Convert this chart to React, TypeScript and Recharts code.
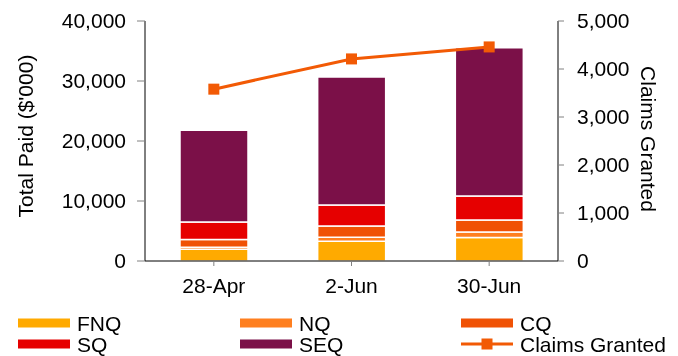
import { ComposedChart, Bar, Line, XAxis, YAxis } from 'recharts'

const dates = ['28-Apr', '2-Jun', '30-Jun']
const fnq = [1950, 3300, 3900]
const nq = [350, 650, 930]
const cq = [1300, 1900, 2000]
const sq = [2900, 3500, 4000]
const seq = [15300, 21300, 24700]
const claimsGranted = [3580, 4210, 4460]

const paidTicks = [0, 10000, 20000, 30000, 40000]
const claimTicks = [0, 1000, 2000, 3000, 4000, 5000]

const data = dates.map((name, i) => ({
  name,
  FNQ: fnq[i],
  NQ: nq[i],
  CQ: cq[i],
  SQ: sq[i],
  SEQ: seq[i],
  claims: claimsGranted[i],
}))

const font = '"Liberation Sans", Arial, sans-serif'
const fmt = (v: number) => v.toLocaleString('en-US')

const bars = [
  { key: 'FNQ', color: '#FFAA00' },
  { key: 'NQ', color: '#FF7F1F' },
  { key: 'CQ', color: '#F05205' },
  { key: 'SQ', color: '#E60000' },
  { key: 'SEQ', color: '#7B1048' },
]
const lineColor = '#F25A05'

const legendItems = [
  { label: 'FNQ', color: '#FFAA00', x: 18, y: 323 },
  { label: 'NQ', color: '#FF7F1F', x: 240, y: 323 },
  { label: 'CQ', color: '#F05205', x: 461, y: 323 },
  { label: 'SQ', color: '#E60000', x: 18, y: 344 },
  { label: 'SEQ', color: '#7B1048', x: 240, y: 344 },
]

const SquareDot = (props: any) => {
  const { cx, cy } = props
  if (cx == null || cy == null) return null
  return <rect x={cx - 5.5} y={cy - 5.5} width={11} height={11} fill={lineColor} />
}

export default function App() {
  return (
    <div style={{ position: 'fixed', left: 0, top: 0, width: 678, height: 356, fontFamily: font }}>
      <ComposedChart
        width={678}
        height={356}
        data={data}
        margin={{ top: 21, right: 0, left: 0, bottom: 55 }}
        barCategoryGap={0}
      >
        <XAxis
          dataKey="name"
          height={40}
          tick={{ fontSize: 21, fill: '#000', fontFamily: font }}
          tickSize={5}
          tickMargin={12}
          axisLine={{ stroke: '#000' }}
          tickLine={{ stroke: '#808080' }}
        />
        <YAxis
          yAxisId="left"
          width={145}
          domain={[0, 40000]}
          ticks={paidTicks}
          tickFormatter={fmt}
          tick={{ fontSize: 21, fill: '#000', fontFamily: font }}
          tickSize={8}
          tickMargin={11}
          axisLine={{ stroke: '#000' }}
          tickLine={{ stroke: '#808080' }}
          label={{
            value: "Total Paid ($'000)",
            angle: -90,
            position: 'center',
            dx: -47,
            dy: -5,
            style: { fontSize: 21, fill: '#000', fontFamily: font },
          }}
        />
        <YAxis
          yAxisId="right"
          orientation="right"
          width={120}
          domain={[0, 5000]}
          ticks={claimTicks}
          tickFormatter={fmt}
          tick={{ fontSize: 21, fill: '#000', fontFamily: font }}
          tickSize={6}
          tickMargin={13}
          axisLine={{ stroke: '#000' }}
          tickLine={{ stroke: '#808080' }}
          label={{
            value: 'Claims Granted',
            angle: 90,
            position: 'center',
            dx: 30,
            dy: -2,
            style: { fontSize: 21, fill: '#000', fontFamily: font },
          }}
        />
        {bars.map((b) => (
          <Bar
            key={b.key}
            yAxisId="left"
            dataKey={b.key}
            stackId="paid"
            fill={b.color}
            stroke="#fff"
            strokeWidth={1.5}
            barSize={68}
            isAnimationActive={false}
          />
        ))}
        <Line
          yAxisId="right"
          dataKey="claims"
          stroke={lineColor}
          strokeWidth={3}
          dot={<SquareDot />}
          activeDot={false}
          isAnimationActive={false}
        />
      </ComposedChart>
      <svg
        width={678}
        height={356}
        style={{ position: 'absolute', left: 0, top: 0, pointerEvents: 'none' }}
      >
        {legendItems.map((it) => (
          <g key={it.label}>
            <rect x={it.x} y={it.y - 4.5} width={52} height={9} fill={it.color} />
            <text x={it.x + 59} y={it.y} dy="0.36em" fontSize={21} fontFamily={font} fill="#000">
              {it.label}
            </text>
          </g>
        ))}
        <g>
          <line x1={461} x2={513} y1={344} y2={344} stroke={lineColor} strokeWidth={3} />
          <rect x={481.5} y={338.5} width={11} height={11} fill={lineColor} />
          <text x={520} y={344} dy="0.36em" fontSize={21} fontFamily={font} fill="#000">
            Claims Granted
          </text>
        </g>
      </svg>
    </div>
  )
}
